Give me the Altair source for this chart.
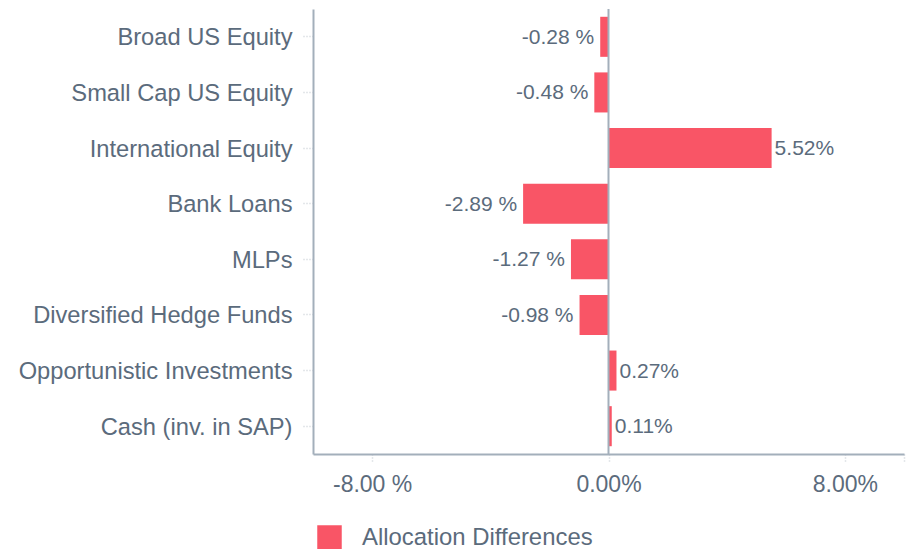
import altair as alt
import pandas as pd

categories = ["Broad US Equity", "Small Cap US Equity", "International Equity", "Bank Loans",
              "MLPs", "Diversified Hedge Funds", "Opportunistic Investments", "Cash (inv. in SAP)"]
values = [-0.28, -0.48, 5.52, -2.89, -1.27, -0.98, 0.27, 0.11]
labels = ["-0.28 %", "-0.48 %", "5.52%", "-2.89 %", "-1.27 %", "-0.98 %", "0.27%", "0.11%"]
series = "Allocation Differences"
x_ticks = [-8, 0, 8, 10]

df = pd.DataFrame({"category": categories, "value": values, "label": labels, "series": series})

TEXT = "#5b6b7c"
AXIS = "#a3afbb"
BAR = "#f95566"
FONT = "Liberation Sans"

y_enc = alt.Y("category:N", sort=categories, title=None,
              scale=alt.Scale(paddingInner=0.28, paddingOuter=0.14),
              axis=alt.Axis(labelFontSize=23.7, labelColor=TEXT, labelFont=FONT, labelPadding=9,
                            labelLimit=0, labelOffset=1.5,
                            tickSize=12, tickColor="#c9cfd5", tickDash=[1, 2], tickWidth=1.5,
                            domainColor=AXIS, domainWidth=2, grid=False))
x_scale = alt.Scale(domain=[-10, 10], nice=False)

bars = alt.Chart(df).mark_bar(color=BAR).encode(
    x=alt.X("value:Q", scale=x_scale, title=None,
            axis=alt.Axis(values=x_ticks, labelFontSize=23, labelColor=TEXT, labelFont=FONT,
                          labelExpr="datum.value == 10 ? '' : (datum.value < 0 ? replace(format(datum.value, '.2f'), '\u2212', '-') + ' %' : format(datum.value, '.2f') + '%')",
                          tickSize=9, tickColor="#c9cfd5", tickDash=[1, 2], tickWidth=1.5,
                          labelPadding=10, domainColor=AXIS, domainWidth=2, grid=False)),
    y=y_enc,
    fill=alt.Fill("series:N", scale=alt.Scale(range=[BAR]),
                  legend=alt.Legend(title=None, orient="none", legendX=4, legendY=516,
                                    symbolType="square", symbolSize=600, symbolStrokeWidth=0,
                                    labelFontSize=23.9, labelColor=TEXT, labelFont=FONT,
                                    labelLimit=0, labelOffset=20)),
)

zero = alt.Chart(pd.DataFrame({"z": [0]})).mark_rule(color=AXIS, strokeWidth=2).encode(
    x=alt.X("z:Q", scale=x_scale))

neg = alt.Chart(df).transform_filter("datum.value < 0").mark_text(
    align="right", baseline="middle", dx=-6, dy=1, fontSize=21, color=TEXT, font=FONT).encode(
    x=alt.X("value:Q", scale=x_scale), y=alt.Y("category:N", sort=categories), text="label:N")

pos = alt.Chart(df).transform_filter("datum.value >= 0").mark_text(
    align="left", baseline="middle", dx=3, dy=1, fontSize=21, color=TEXT, font=FONT).encode(
    x=alt.X("value:Q", scale=x_scale), y=alt.Y("category:N", sort=categories), text="label:N")

chart = alt.layer(bars, zero, neg, pos).properties(
    width=591, height=445,
    autosize=alt.AutoSizeParams(type="none"),
    padding={"left": 305, "top": 1, "right": 5, "bottom": 95},
).configure_view(stroke=None)

chart.save("out.html", embed_options={"renderer": "svg", "actions": False})
